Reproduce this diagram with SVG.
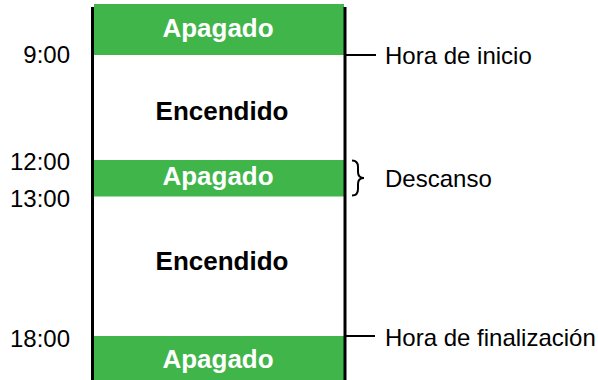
<svg xmlns="http://www.w3.org/2000/svg" width="598" height="380" viewBox="0 0 598 380">
<style>
.off{fill:#3fb54a}
.lbl{font-family:"Liberation Sans",Arial,sans-serif;font-size:24px;fill:#000}
.bw{font-family:"Liberation Sans",Arial,sans-serif;font-size:26px;font-weight:bold;fill:#fff;text-anchor:middle}
.bb{font-family:"Liberation Sans",Arial,sans-serif;font-size:26px;font-weight:bold;fill:#000;text-anchor:middle}
.t{text-anchor:end}
.ln{stroke:#000;stroke-width:3;fill:none}
.tk{stroke:#000;stroke-width:2;fill:none}
</style>
<rect width="598" height="380" fill="#fff"/>
<g id="off1"><rect class="off" x="94" y="4" width="250" height="51"/><text class="bw" x="218" y="37">Apagado</text></g>
<g id="on1"><text class="bb" x="222" y="120">Encendido</text></g>
<g id="off2"><rect class="off" x="94" y="160" width="250" height="36.5"/><text class="bw" x="218" y="185">Apagado</text></g>
<g id="on2"><text class="bb" x="222" y="269.5">Encendido</text></g>
<g id="off3"><rect class="off" x="94" y="336" width="250" height="44"/><text class="bw" x="218" y="367.5">Apagado</text></g>
<g id="frame"><line class="ln" x1="92.5" y1="7" x2="92.5" y2="380"/><line class="ln" x1="345" y1="7" x2="345" y2="380"/></g>
<g id="times">
<text class="lbl t" x="70" y="63">9:00</text>
<text class="lbl t" x="70" y="169.5">12:00</text>
<text class="lbl t" x="70" y="206.5">13:00</text>
<text class="lbl t" x="70" y="346.5">18:00</text>
</g>
<g id="connectors">
<line class="tk" x1="346" y1="55" x2="376" y2="55"/>
<line class="tk" x1="346" y1="336" x2="375" y2="336"/>
<path class="tk" stroke-width="1.5" d="M352,160.5 Q358,160.5 358,167 L358,172 Q358,178 364,178 Q358,178 358,184 L358,189 Q358,195.5 352,195.5"/>
</g>
<g id="start"><text class="lbl" x="385" y="63.5">Hora de inicio</text></g>
<g id="break"><text class="lbl" x="385" y="186.5">Descanso</text></g>
<g id="end"><text class="lbl" x="385" y="346">Hora de finalización</text></g>
</svg>
